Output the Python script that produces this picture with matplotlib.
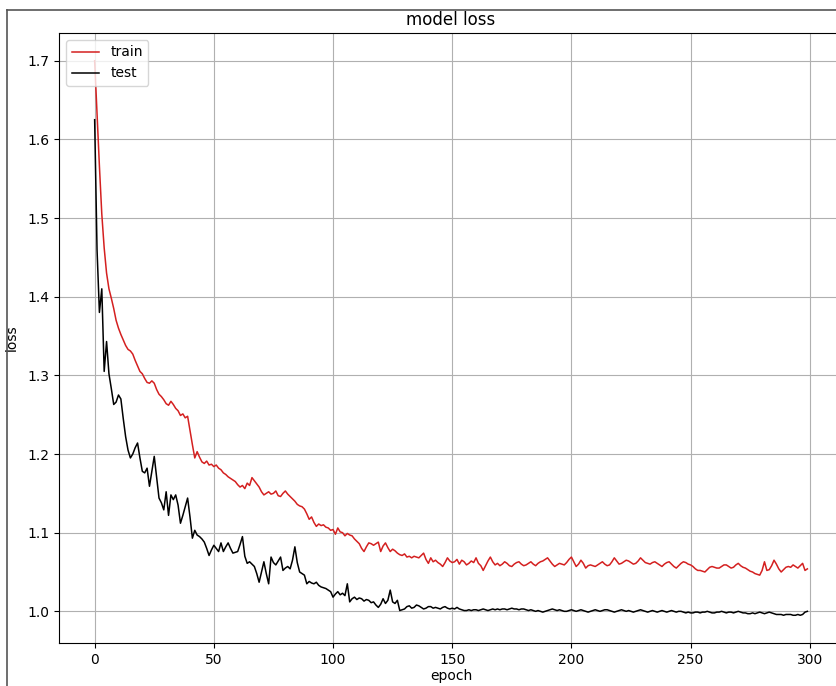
import matplotlib.pyplot as plt
from matplotlib.lines import Line2D

# loss per epoch
train_loss = [
    1.700, 1.632, 1.566, 1.505, 1.462, 1.430, 1.410, 1.398, 1.385, 1.370,
    1.360, 1.352, 1.345, 1.338, 1.333, 1.331, 1.327, 1.319, 1.312, 1.305,
    1.302, 1.296, 1.291, 1.290, 1.293, 1.290, 1.282, 1.276, 1.273, 1.269,
    1.264, 1.262, 1.267, 1.263, 1.258, 1.255, 1.249, 1.251, 1.246, 1.248,
    1.230, 1.212, 1.195, 1.203, 1.196, 1.190, 1.188, 1.191, 1.186, 1.187,
    1.184, 1.186, 1.182, 1.180, 1.176, 1.174, 1.171, 1.169, 1.167, 1.165,
    1.161, 1.158, 1.160, 1.156, 1.163, 1.160, 1.170, 1.166, 1.162, 1.158,
    1.152, 1.148, 1.150, 1.152, 1.149, 1.150, 1.153, 1.147, 1.146, 1.150,
    1.153, 1.149, 1.146, 1.143, 1.140, 1.136, 1.134, 1.133, 1.130, 1.124,
    1.117, 1.120, 1.113, 1.108, 1.111, 1.109, 1.110, 1.107, 1.106, 1.103,
    1.104, 1.098, 1.106, 1.101, 1.100, 1.096, 1.099, 1.097, 1.096, 1.092,
    1.089, 1.086, 1.080, 1.076, 1.082, 1.087, 1.086, 1.084, 1.086, 1.088,
    1.076, 1.083, 1.087, 1.081, 1.076, 1.079, 1.077, 1.074, 1.072, 1.071,
    1.073, 1.069, 1.070, 1.068, 1.070, 1.069, 1.068, 1.071, 1.074, 1.066,
    1.061, 1.068, 1.063, 1.065, 1.062, 1.060, 1.057, 1.062, 1.068, 1.064,
    1.062, 1.063, 1.066, 1.060, 1.065, 1.063, 1.059, 1.061, 1.064, 1.062,
    1.068, 1.061, 1.058, 1.052, 1.058, 1.064, 1.069, 1.063, 1.059, 1.061,
    1.058, 1.060, 1.063, 1.061, 1.058, 1.057, 1.060, 1.062, 1.063, 1.060,
    1.058, 1.059, 1.061, 1.063, 1.060, 1.058, 1.061, 1.063, 1.064, 1.066,
    1.068, 1.064, 1.060, 1.057, 1.059, 1.061, 1.060, 1.059, 1.062, 1.066,
    1.069, 1.063, 1.057, 1.060, 1.065, 1.061, 1.055, 1.058, 1.059, 1.058,
    1.057, 1.059, 1.061, 1.063, 1.060, 1.058, 1.059, 1.063, 1.068, 1.064,
    1.060, 1.061, 1.063, 1.065, 1.064, 1.062, 1.060, 1.061, 1.064, 1.068,
    1.065, 1.062, 1.061, 1.060, 1.062, 1.063, 1.061, 1.059, 1.057, 1.060,
    1.062, 1.063, 1.060, 1.057, 1.055, 1.058, 1.061, 1.063, 1.062, 1.060,
    1.059, 1.057, 1.054, 1.052, 1.052, 1.051, 1.050, 1.053, 1.056, 1.057,
    1.056, 1.055, 1.055, 1.057, 1.059, 1.059, 1.057, 1.055, 1.056, 1.059,
    1.061, 1.058, 1.056, 1.055, 1.053, 1.051, 1.050, 1.048, 1.047, 1.046,
    1.052, 1.063, 1.052, 1.053, 1.058, 1.065, 1.060, 1.054, 1.050, 1.053,
    1.056, 1.057, 1.056, 1.059, 1.057, 1.055, 1.058, 1.061, 1.052, 1.054,
]

test_loss = [
    1.625, 1.460, 1.380, 1.410, 1.305, 1.343, 1.302, 1.283, 1.263, 1.266,
    1.275, 1.270, 1.245, 1.222, 1.205, 1.195, 1.200, 1.208, 1.214, 1.195,
    1.178, 1.176, 1.182, 1.159, 1.178, 1.197, 1.170, 1.144, 1.138, 1.129,
    1.152, 1.122, 1.148, 1.142, 1.148, 1.135, 1.112, 1.122, 1.133, 1.144,
    1.120, 1.093, 1.103, 1.097, 1.095, 1.092, 1.088, 1.080, 1.071, 1.078,
    1.084, 1.080, 1.076, 1.087, 1.076, 1.082, 1.087, 1.080, 1.074, 1.075,
    1.076, 1.085, 1.095, 1.070, 1.061, 1.063, 1.060, 1.057, 1.048, 1.037,
    1.050, 1.063, 1.048, 1.035, 1.069, 1.062, 1.059, 1.064, 1.069, 1.052,
    1.055, 1.057, 1.054, 1.065, 1.082, 1.062, 1.050, 1.048, 1.046, 1.035,
    1.038, 1.036, 1.035, 1.037, 1.033, 1.031, 1.030, 1.029, 1.027, 1.025,
    1.018, 1.022, 1.025, 1.021, 1.023, 1.020, 1.035, 1.012, 1.016, 1.018,
    1.015, 1.017, 1.016, 1.013, 1.015, 1.014, 1.011, 1.012, 1.008, 1.005,
    1.009, 1.016, 1.010, 1.014, 1.027, 1.012, 1.010, 1.014, 1.001, 1.002,
    1.003, 1.006, 1.007, 1.004, 1.005, 1.008, 1.007, 1.005, 1.003, 1.004,
    1.006, 1.006, 1.004, 1.005, 1.004, 1.003, 1.005, 1.006, 1.004, 1.003,
    1.004, 1.003, 1.005, 1.003, 1.002, 1.001, 1.001, 1.002, 1.001, 1.002,
    1.002, 1.001, 1.002, 1.003, 1.002, 1.001, 1.002, 1.003, 1.002, 1.003,
    1.002, 1.003, 1.003, 1.002, 1.003, 1.004, 1.003, 1.003, 1.002, 1.003,
    1.003, 1.002, 1.001, 1.002, 1.001, 1.000, 1.001, 1.000, 0.999, 1.000,
    1.001, 1.002, 1.003, 1.002, 1.001, 1.002, 1.001, 1.000, 1.000, 1.001,
    1.002, 1.001, 1.000, 1.001, 1.002, 1.001, 1.000, 0.999, 1.000, 1.001,
    1.002, 1.001, 1.000, 1.001, 1.002, 1.002, 1.001, 1.000, 0.999, 1.000,
    1.001, 1.002, 1.001, 1.000, 1.001, 1.000, 0.999, 1.000, 1.001, 1.002,
    1.001, 1.000, 0.999, 1.000, 1.001, 1.000, 0.999, 1.000, 1.001, 1.000,
    0.999, 1.000, 1.001, 1.000, 0.999, 1.000, 1.000, 0.999, 0.998, 0.999,
    0.998, 0.998, 0.999, 0.999, 0.998, 0.999, 0.999, 1.000, 0.999, 0.998,
    0.998, 0.999, 0.999, 1.000, 0.999, 0.998, 0.999, 0.999, 0.998, 0.999,
    1.000, 0.999, 0.998, 0.998, 0.997, 0.997, 0.998, 0.997, 0.998, 0.999,
    0.998, 0.997, 0.998, 0.999, 0.998, 0.997, 0.996, 0.996, 0.996, 0.995,
    0.996, 0.996, 0.996, 0.995, 0.995, 0.996, 0.995, 0.996, 0.999, 1.000,
]

fig = plt.figure(figsize=(8.37, 6.86), dpi=100)
ax = fig.add_axes([0.0705, 0.0627, 0.9367, 0.8892])

ax.plot(train_loss, color='#d42020', lw=1.1, label='train')
ax.plot(test_loss, color='black', lw=1.1, label='test')

ax.set_title('model loss', fontsize=12)
ax.set_xlabel('epoch', fontsize=10, labelpad=2)
ax.set_ylabel('loss', fontsize=10, labelpad=6)
ax.tick_params(labelsize=10)
ax.grid(True)
ax.legend(loc='upper left', fontsize=10)

# frame of the surrounding box the plot was cropped from
fig.add_artist(Line2D([7 / 837, 1.0], [1 - 10 / 686] * 2, color='#555555', lw=1.2))
fig.add_artist(Line2D([7 / 837] * 2, [0.0, 1 - 10 / 686], color='#555555', lw=1.2))

fig.savefig('out.png', dpi=100)
